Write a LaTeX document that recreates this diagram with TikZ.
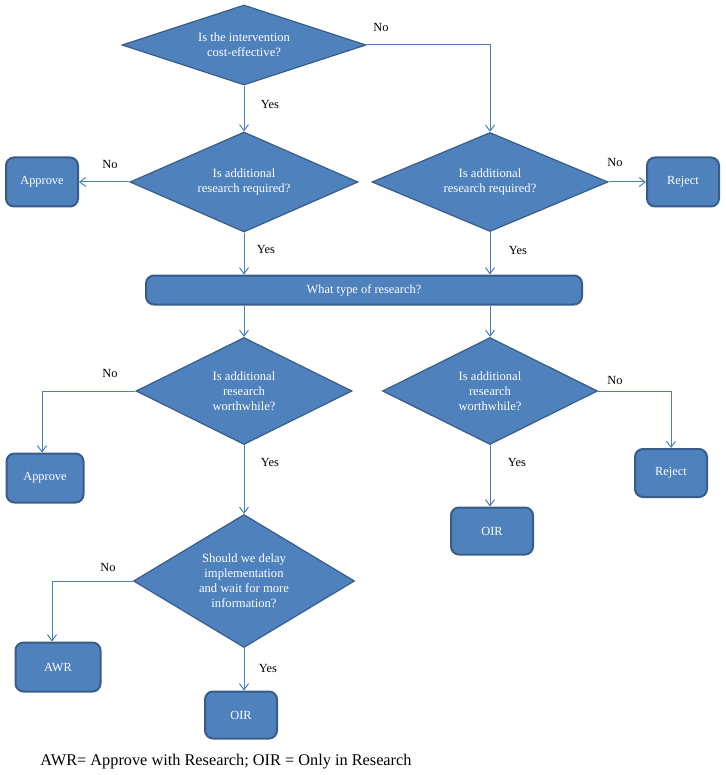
\documentclass[tikz,border=0pt]{standalone}
\usepackage{fontspec}
\setmainfont{Liberation Serif}
\usetikzlibrary{positioning, shapes.geometric, arrows.meta}
\definecolor{Cf}{RGB}{79,129,189}
\definecolor{Cbdr}{RGB}{56,93,138}
\definecolor{Cln}{RGB}{74,126,187}
\tikzset{
  Dq/.style n args={2}{diamond, aspect=2, draw=Cbdr, fill=Cf,
    line width=1.2pt, minimum width=#1, minimum height=#2,
    inner sep=0pt, align=center, text=white,
    font=\fontsize{12.6}{15}\selectfont},
  Bx/.style n args={2}{rectangle, draw=Cbdr, fill=Cf, rounded corners=8pt,
    line width=2pt, minimum width=#1, minimum height=#2,
    inner sep=2pt, align=center, text=white,
    font=\fontsize{12.4}{15}\selectfont},
  lbl/.style={font=\fontsize{12.4}{14}\selectfont, text=black, inner sep=1pt},
  a/.style={-{Straight Barb[length=6pt,width=9pt]}, line width=1pt, color=Cln}
}
\begin{document}
\begin{tikzpicture}[x=1pt, y=-1pt]
\fill[white] (0,0) rectangle (725,775);
\useasboundingbox (0,0) rectangle (725,775);

% ═══════════════════════════════════════════════════════════════
%  TOP  cost-effectiveness, research required
% ═══════════════════════════════════════════════════════════════
\node[Dq={244pt}{80pt}] (Dce) at (244, 45)
  {Is the intervention\\cost-effective?};

\node[Dq={228pt}{100pt}] (Dreq) at (244, 182)
  {Is additional\\research required?};
\node[Dq={236pt}{99pt}]  (Dreqn) at (490, 182)
  {Is additional\\research required?};

\node[Bx={72pt}{49pt}] (Apr1) at (42, 182)  {Approve};
\node[Bx={72pt}{49pt}] (Rej1) at (683, 182) {Reject};

\node[Bx={436pt}{29pt}] (Btype) at (364, 290) {What type of research?};

% ═══════════════════════════════════════════════════════════════
%  LOWER  worthwhile, delay
% ═══════════════════════════════════════════════════════════════
\node[Dq={216pt}{107pt}] (Dworth) at (244, 391)
  {Is additional\\research\\worthwhile?};
\node[Dq={215pt}{107pt}] (Dworthn) at (490, 391)
  {Is additional\\research\\worthwhile?};

\node[Bx={77pt}{49pt}] (Apr2) at (45, 478)  {Approve};
\node[Bx={72pt}{48pt}] (Rej2) at (671, 473) {Reject};
\node[Bx={82pt}{47pt}] (Oir1) at (492, 531) {OIR};

\node[Dq={221pt}{133pt}] (Ddel) at (244, 581)
  {Should we delay\\implementation\\and wait for more\\information?};

\node[Bx={85pt}{49pt}] (Awr)  at (58, 667)  {AWR};
\node[Bx={72pt}{47pt}] (Oir2) at (241, 715) {OIR};

% connectors
\draw[a] (Dce.east) -| (Dreqn.north);
\draw[a] (Dce.south) -- (Dreq.north);
\draw[a] (Dreq.west) -- (Apr1.east);
\draw[a] (Dreqn.east) -- (Rej1.west);
\draw[a] (Dreq.south) -- (Dreq.south |- Btype.north);
\draw[a] (Dreqn.south) -- (Dreqn.south |- Btype.north);
\draw[a] (Btype.south -| Dworth.north) -- (Dworth.north);
\draw[a] (Btype.south -| Dworthn.north) -- (Dworthn.north);
\draw[a] (Dworth.west) -| ([xshift=-3pt]Apr2.north);
\draw[a] (Dworthn.east) -| (Rej2.north);
\draw[a] (Dworth.south) -- (Ddel.north);
\draw[a] (Dworthn.south) -- (Dworthn.south |- Oir1.north);
\draw[a] (Ddel.west) -| ([xshift=-6pt]Awr.north);
\draw[a] (Ddel.south) -- (Ddel.south |- Oir2.north);

% branch labels
\node[lbl] (n1) at (381, 28)  {No};
\node[lbl] (n2) at (110, 165) {No};
\node[lbl] (n3) at (615, 163) {No};
\node[lbl] (n4) at (110, 373) {No};
\node[lbl] (n5) at (615, 380) {No};
\node[lbl] (n6) at (108, 567) {No};
\node[lbl] (y1) at (270, 105) {Yes};
\node[lbl] (y2) at (266, 250) {Yes};
\node[lbl] (y3) at (518, 251) {Yes};
\node[lbl] (y4) at (270, 462) {Yes};
\node[lbl] (y5) at (517, 462) {Yes};
\node[lbl] (y6) at (268, 668) {Yes};

\node[font=\fontsize{16.3}{18}\selectfont] (Cap) at (226, 762)
  {AWR= Approve with Research; OIR = Only in Research};

\end{tikzpicture}
\end{document}
